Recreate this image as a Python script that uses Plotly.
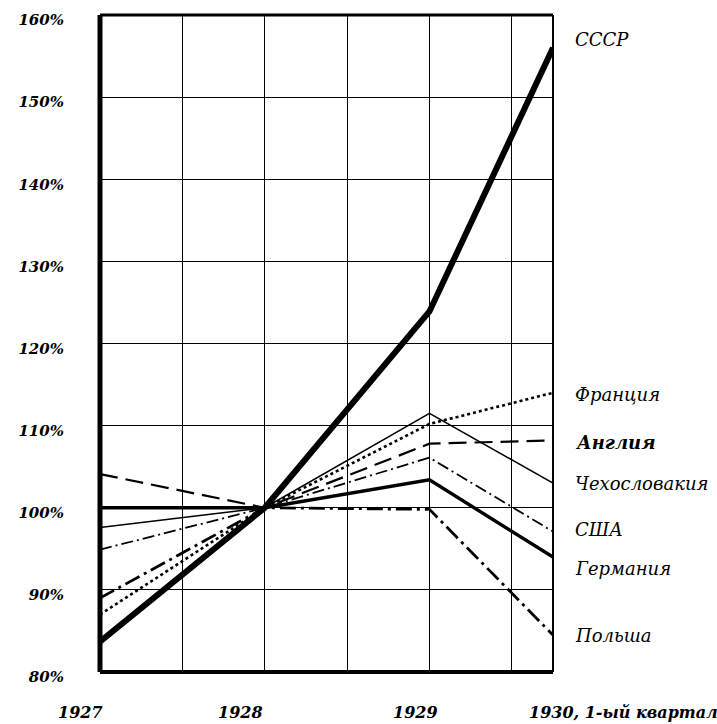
import plotly.graph_objects as go

# ---- data (index, 1928 = 100%) ----
periods = ["1927", "1928", "1929", "1930, 1-ый квартал"]
period_x = [0, 2, 4, 5.5]

countries = ["СССР", "Франция", "Англия", "Чехословакия", "США", "Германия", "Польша"]
ussr      = [83.7, 100, 123.9, 156.0]
france    = [87.0, 100, 110.2, 114.0]
england   = [104.1, 100, 107.8, 108.2]
czech     = [97.6, 100, 111.5, 103.0]
usa       = [94.9, 100, 106.1, 97.1]
germany   = [100.0, 100, 103.4, 94.0]
poland    = [89.0, 100, 99.8, 84.5]

y_ticks = [80, 90, 100, 110, 120, 130, 140, 150, 160]
y_tick_text = ["80%", "90%", "100%", "110%", "120%", "130%", "140%", "150%", "160%"]

series = [ussr, france, england, czech, usa, germany, poland]
styles = [
    dict(width=6, dash="solid"),
    dict(width=2.6, dash="dot"),
    dict(width=2.2, dash="18px,8px"),
    dict(width=1.6, dash="solid"),
    dict(width=1.8, dash="12px,4px,2px,4px"),
    dict(width=3.4, dash="solid"),
    dict(width=2.8, dash="16px,5px,3px,5px"),
]
label_y = [157.0, 113.8, 108.0, 103.0, 97.3, 92.6, 84.5]

fig = go.Figure()
for name, vals, st in zip(countries, series, styles):
    fig.add_trace(go.Scatter(
        x=period_x, y=vals, mode="lines", name=name,
        line=dict(color="black", width=st["width"], dash=st["dash"]),
        showlegend=False, hoverinfo="skip"))

serif = "DejaVu Serif"

for name, ly in zip(countries, label_y):
    fig.add_annotation(x=1, xref="paper", y=ly, yref="y", text=name,
                       showarrow=False, xanchor="left", xshift=20,
                       font=dict(family=serif, size=18, color="black",
                                 style="italic",
                                 weight="bold" if name == "Англия" else "normal"))

for i, (px, lab) in enumerate(zip(period_x, periods)):
    last = i == len(periods) - 1
    fig.add_annotation(x=px, xref="x", y=0, yref="paper", text=lab,
                       showarrow=False, yanchor="middle", yshift=-40,
                       xanchor="left" if last else "center",
                       xshift=-26 if last else [-20, -24, -14][i],
                       font=dict(family=serif, size=16, color="black",
                                 style="italic", weight="bold"))

# frame
fig.add_shape(type="line", xref="paper", yref="paper", x0=0, x1=0, y0=0, y1=1,
              line=dict(color="black", width=5))
fig.add_shape(type="line", xref="paper", yref="paper", x0=0, x1=1, y0=1, y1=1,
              line=dict(color="black", width=3))
fig.add_shape(type="line", xref="paper", yref="paper", x0=0, x1=1, y0=0, y1=0,
              line=dict(color="black", width=4))
fig.add_shape(type="line", xref="paper", yref="paper", x0=1, x1=1, y0=0, y1=1,
              line=dict(color="black", width=2))

fig.update_layout(
    width=717, height=724,
    margin=dict(l=100, r=164, t=15, b=52),
    paper_bgcolor="white", plot_bgcolor="white",
    xaxis=dict(range=[0, 5.5], tickvals=[1, 2, 3, 4, 5], showticklabels=False,
               showgrid=True, gridcolor="black", gridwidth=1.2, zeroline=False,
               ticks="", automargin=False),
    yaxis=dict(range=[80, 160], tickvals=y_ticks, ticktext=y_tick_text,
               showgrid=True, gridcolor="black", gridwidth=1.2, zeroline=False,
               ticks="", ticklabelstandoff=35, ticklabelshift=5, automargin=False,
               ticklabeloverflow="allow",
               tickfont=dict(family=serif, size=15, color="black",
                             style="italic", weight="bold")),
)

fig.write_html("out.html", config={"displayModeBar": False},
               post_script="document.body.style.margin='0';document.body.style.overflow='hidden';")
